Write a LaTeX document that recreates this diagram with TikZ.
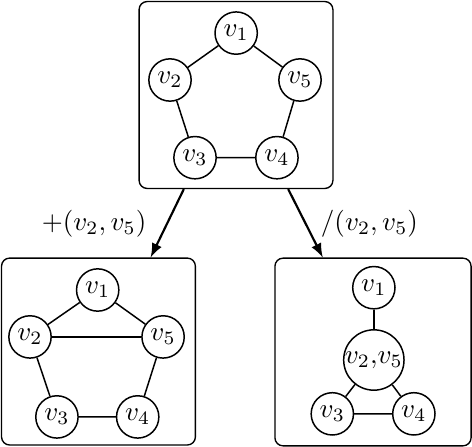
\documentclass[tikz,border=0pt]{standalone}
\usepackage{tikz}
\usetikzlibrary{positioning}
\usetikzlibrary{calc}
\usetikzlibrary{arrows}
\usepackage{amsmath}

\begin{document}
\begin{tikzpicture}[
    vertex/.style={circle, draw, fill=white, line width=0.55pt, minimum size=0.55cm, inner sep=0.5pt},
    bigvertex/.style={vertex, minimum size=0.76cm, inner sep=0pt},
    graphbox/.style={rectangle, draw, line width=0.5pt, rounded corners=3pt, minimum width=2.52cm, minimum height=2.43cm},
    edge/.style={line width=0.55pt},
    >=latex
]
    \useasboundingbox (0,0) rectangle (6.136,-5.798);

    % Boxes
    \node[graphbox] (top) at (3.068,-1.235) {};
    \node[graphbox] (add) at (1.280,-4.570) {};
    \node[graphbox, minimum width=2.55cm, minimum height=2.44cm] (merge) at (4.849,-4.576) {};

    % Original graph
    \node[vertex] (a1) at (3.07,-0.43) {$v_1$};
    \node[vertex] (a2) at (2.21,-1.04) {$v_2$};
    \node[vertex] (a5) at (3.90,-1.04) {$v_5$};
    \node[vertex] (a3) at (2.535,-2.05) {$v_3$};
    \node[vertex] (a4) at (3.60,-2.05) {$v_4$};
    \draw[edge] (a1) -- (a2) -- (a3) -- (a4) -- (a5) -- (a1);

    % Graph with added edge
    \node[vertex] (b1) at (1.27,-3.77) {$v_1$};
    \node[vertex] (b2) at (0.39,-4.38) {$v_2$};
    \node[vertex] (b5) at (2.12,-4.38) {$v_5$};
    \node[vertex] (b3) at (0.74,-5.42) {$v_3$};
    \node[vertex] (b4) at (1.79,-5.42) {$v_4$};
    \draw[edge] (b1) -- (b2) -- (b3) -- (b4) -- (b5) -- (b1);
    \draw[edge] (b2) -- (b5);

    % Graph with merged vertices
    \node[vertex] (c1) at (4.86,-3.74) {$v_1$};
    \node[bigvertex] (c25) at (4.86,-4.68) {$v_2{,}v_5$};
    \node[vertex] (c3) at (4.32,-5.38) {$v_3$};
    \node[vertex] (c4) at (5.38,-5.38) {$v_4$};
    \draw[edge] (c1) -- (c25);
    \draw[edge] (c25) -- (c3) -- (c4) -- (c25);

    % Operations
    \draw[->, thick] (top.241.5) -- node[left=4pt] {$+(v_2,v_5)$} (add.61.2);
    \draw[->, thick] (top.299) -- node[right=2pt] {$/(v_2,v_5)$} (merge.118);
\end{tikzpicture}
\end{document}
